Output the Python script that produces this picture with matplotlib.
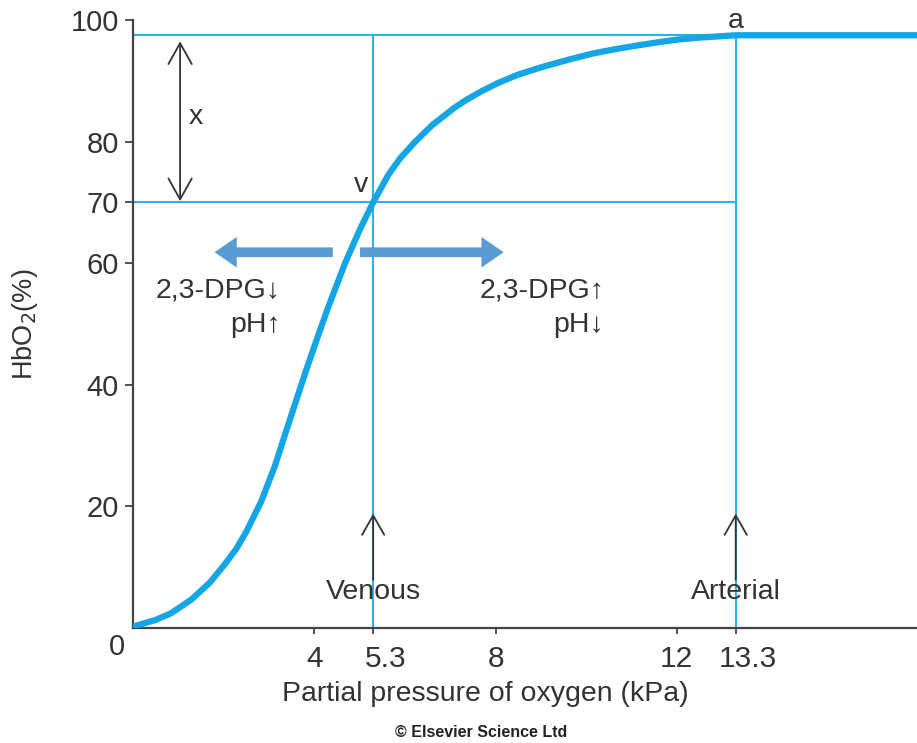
import matplotlib.pyplot as plt
from matplotlib.transforms import ScaledTranslation

# oxygen dissociation curve
curve_kpa = [0, 0.13, 0.50, 0.84, 1.28, 1.69, 2.02, 2.28, 2.50, 2.83, 3.13, 3.39,
             3.61, 3.79, 4.03, 4.30, 4.68, 5.01, 5.30, 5.64, 5.90, 6.23, 6.60,
             7.08, 7.34, 7.67, 8.04, 8.49, 9.04, 9.67, 10.15, 10.63, 11.11,
             11.59, 12.03, 12.48, 13.3, 17.3]
curve_sat = [0.2, 0.5, 1.3, 2.4, 4.6, 7.4, 10.4, 13.0, 15.8, 20.8, 26.6, 32.6,
             37.6, 41.7, 46.9, 52.6, 60.0, 65.6, 70.0, 74.6, 77.3, 80.0, 82.7,
             85.5, 86.8, 88.2, 89.6, 91.0, 92.3, 93.6, 94.5, 95.2, 95.8,
             96.35, 96.8, 97.1, 97.5, 97.5]

venous_kpa, venous_sat = 5.3, 70
arterial_kpa, arterial_sat = 13.3, 97.5

x_ticks = [4, 5.3, 8, 12, 13.3]
x_ticklabels = ['4', '5.3', '8', '12', '13.3']
y_ticks = [20, 40, 60, 70, 80, 100]

CURVE = '#14a5e6'
GUIDE = '#2db2ea'
SHIFT = '#5b9bd5'
INK = '#333333'

plt.rcParams['font.family'] = ['Liberation Sans', 'DejaVu Sans']

fig = plt.figure(figsize=(9.17, 7.43), dpi=100)
ax = fig.add_axes([0.145, 0.155, 0.855, 0.818])
xmax = 17.3
ax.set_xlim(0, xmax)
ax.set_ylim(0, 100)

# guide lines
ax.plot([0, xmax], [arterial_sat, arterial_sat], color=GUIDE, lw=1.5, zorder=2)
ax.plot([0, arterial_kpa], [venous_sat, venous_sat], color=GUIDE, lw=1.5, zorder=2)
ax.plot([venous_kpa, venous_kpa], [0, arterial_sat], color=GUIDE, lw=1.5, zorder=2)
ax.plot([arterial_kpa, arterial_kpa], [0, arterial_sat], color=GUIDE, lw=1.5, zorder=2)

# curve
ax.plot(curve_kpa, curve_sat, color=CURVE, lw=4.5, solid_capstyle='round',
        solid_joinstyle='round', zorder=4)

# shift arrows
fat = dict(arrowstyle='simple,head_width=1.1,head_length=0.8,tail_width=0.35',
           color=SHIFT, lw=0, mutation_scale=20, shrinkA=0, shrinkB=0)
ax.annotate('', xy=(1.80, 61.8), xytext=(4.41, 61.8), arrowprops=fat, zorder=3)
ax.annotate('', xy=(8.18, 61.8), xytext=(5.01, 61.8), arrowprops=fat, zorder=3)

fs_lab = 20.5
ax.text(3.26, 55.5, '2,3-DPG\u2193', ha='right', va='center', fontsize=fs_lab, color=INK)
ax.text(3.26, 49.8, 'pH\u2191', ha='right', va='center', fontsize=fs_lab, color=INK)
ax.text(10.4, 55.5, '2,3-DPG\u2191', ha='right', va='center', fontsize=fs_lab, color=INK)
ax.text(10.4, 49.8, 'pH\u2193', ha='right', va='center', fontsize=fs_lab, color=INK)

# x difference arrow
thin = dict(arrowstyle='<->,head_length=0.75,head_width=0.42', color=INK, lw=1.3,
            mutation_scale=20, shrinkA=0, shrinkB=0)
ax.annotate('', xy=(1.04, 96.5), xytext=(1.04, 70.2), arrowprops=thin)
ax.text(1.22, 84.0, 'x', ha='left', va='center', fontsize=fs_lab, color=INK)

ax.text(5.04, 72.9, 'v', ha='center', va='center', fontsize=fs_lab, color=INK)
ax.text(13.3, 99.8, 'a', ha='center', va='center', fontsize=fs_lab, color=INK,
        clip_on=False)

# venous / arterial markers
up = dict(arrowstyle='->,head_length=0.7,head_width=0.4', color=INK, lw=1.3,
          mutation_scale=20, shrinkA=0, shrinkB=0)
for k, name in [(venous_kpa, 'Venous'), (arterial_kpa, 'Arterial')]:
    ax.annotate('', xy=(k, 18.8), xytext=(k, 7.9), arrowprops=up, zorder=5)
    ax.text(k, 5.9, name, ha='center', va='center', fontsize=fs_lab, color=INK, zorder=5)

# axes styling
for s in ['top', 'right']:
    ax.spines[s].set_visible(False)
for s in ['left', 'bottom']:
    ax.spines[s].set_color('#444444')
    ax.spines[s].set_linewidth(1.6)
ax.set_xticks(x_ticks)
ax.set_xticklabels(x_ticklabels)
ax.set_yticks(y_ticks)
ax.tick_params(axis='y', length=6, width=1.3, color='#444444', pad=4,
               labelsize=21, labelcolor=INK)
ax.tick_params(axis='x', length=4, width=1.3, color='#444444', pad=8,
               labelsize=21.5, labelcolor=INK)
# decimal labels sit a little right of their ticks in the original
for lab in ax.get_xticklabels():
    if '.' in lab.get_text():
        lab.set_transform(lab.get_transform() + ScaledTranslation(12 / 100, 0, fig.dpi_scale_trans))
ax.text(-0.35, -3.2, '0', ha='center', va='center', fontsize=21, color=INK, clip_on=False)

ax.set_xlabel('Partial pressure of oxygen (kPa)', fontsize=20.5, color=INK)
ax.xaxis.set_label_coords(0.449, -0.088)
ax.set_ylabel('HbO$_2$(%)', fontsize=19.5, color=INK, labelpad=22)
fig.text(0.5245, 0.0148, '\u00a9 Elsevier Science Ltd', ha='center', va='center',
         fontsize=11.5, fontweight='bold', color='#222222')

fig.savefig('out.png', dpi=100)
